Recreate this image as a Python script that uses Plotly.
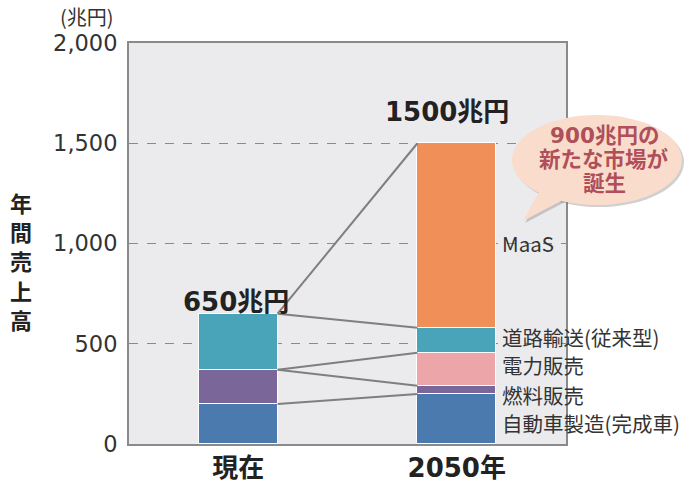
import plotly.graph_objects as go

categories = ["現在", "2050年"]
series_names = ["自動車製造(完成車)", "燃料販売", "電力販売", "道路輸送(従来型)", "MaaS"]
series_values = [
    [200, 250],
    [170, 40],
    [0, 165],
    [280, 125],
    [0, 920],
]
series_colors = ["#4a7aae", "#7a6699", "#eca5a9", "#49a3b9", "#f09058"]
totals = [650, 1500]
total_labels = ["650兆円", "1500兆円"]
y_ticks = [0, 500, 1000, 1500, 2000]
y_ticktext = ["0", "500", "1,000", "1,500", "2,000"]
y_title = "年間売上高"
callout_lines = ["900兆円の", "新たな市場が", "誕生"]

W, H = 700, 482
L, R, T, B = 129, 134, 43, 38
PW, PH = W - L - R, H - T - B
BW = 0.36
xs = [0, 1]

def px(x):
    return (x - L) / PW

def py(y):
    return (H - B - y) / PH

fig = go.Figure()

cum = []
run = [0, 0]
for name, vals, col in zip(series_names, series_values, series_colors):
    fig.add_trace(go.Bar(
        x=xs, y=[v if v else None for v in vals], name=name, width=BW,
        marker=dict(color=col, line=dict(color="white", width=1.5)),
        showlegend=False, hoverinfo="skip"))
    run = [run[0] + vals[0], run[1] + vals[1]]
    cum.append(list(run))

# connectors: (series index at current, series index at 2050)
connectors = [(3, 4), (3, 3), (1, 2), (1, 1), (0, 0)]
for a, b in connectors:
    fig.add_trace(go.Scatter(
        x=[xs[0] + BW / 2, xs[1] - BW / 2], y=[cum[a][0], cum[b][1]],
        mode="lines", line=dict(color="#7f7f7f", width=2),
        showlegend=False, hoverinfo="skip", cliponaxis=False))

FONT = "DejaVu Sans, Noto Sans CJK JP"
CJK = "Noto Sans CJK JP"
annotations = []
# totals
annotations.append(dict(x=xs[0], y=totals[0], text="<b>" + total_labels[0] + "</b>",
                        showarrow=False, yanchor="bottom", yshift=-5, xshift=-2,
                        font=dict(size=26, color="#222", family=FONT)))
annotations.append(dict(x=xs[1], y=totals[1], text="<b>" + total_labels[1] + "</b>",
                        showarrow=False, yanchor="bottom", yshift=14, xshift=-10,
                        font=dict(size=26, color="#222", family=FONT)))

# segment labels at the right of the 2050 bar
label_y = [105, 245, 395, 535, 1005]
for name, ly in zip(series_names, label_y):
    annotations.append(dict(x=px(500), xref="paper", y=ly, yref="y", text=name,
                            showarrow=False, xanchor="left", yanchor="middle",
                            font=dict(size=20.5, color="#333", family=CJK)))

# unit and y title
annotations.append(dict(x=px(116), y=py(16), xref="paper", yref="paper", text="(兆円)",
                        showarrow=False, xanchor="right", yanchor="middle",
                        font=dict(size=20, color="#333", family=CJK)))
for i, ch in enumerate(y_title):
    annotations.append(dict(x=px(21), y=py(202 + 29.2 * i), xref="paper", yref="paper",
                            text="<b>" + ch + "</b>", showarrow=False,
                            xanchor="center", yanchor="middle",
                            font=dict(size=22, color="#222", family=CJK)))

# callout text
for i, line in enumerate(callout_lines):
    annotations.append(dict(x=px(604), y=py(135 + 24 * i), xref="paper", yref="paper",
                            text="<b>" + line + "</b>", showarrow=False,
                            xanchor="center", yanchor="middle",
                            font=dict(size=21.5, color="#b04f59", family=FONT)))

shapes = []
fill = "#f9dccb"
def ell(x0, y0, x1, y1, color):
    return dict(type="circle", xref="paper", yref="paper", x0=px(x0), x1=px(x1),
                y0=py(y1), y1=py(y0), fillcolor=color, line=dict(width=0), layer="above")

def tail(dx, dy, color):
    pts = [(540 + dx, 190 + dy), (523 + dx, 221 + dy), (563 + dx, 200 + dy)]
    p = "M " + " L ".join(f"{px(a)},{py(b)}" for a, b in pts) + " Z"
    return dict(type="path", xref="paper", yref="paper", path=p, fillcolor=color,
                line=dict(width=0), layer="above")

shadow = "rgba(120,120,120,0.35)"
shapes.append(tail(2, 2, shadow))
shapes.append(ell(514, 117, 684, 207, shadow))
shapes.append(tail(0, 0, fill))
shapes.append(ell(512, 115, 682, 205, fill))

fig.update_layout(
    width=W, height=H, margin=dict(l=L, r=R, t=T, b=B, autoexpand=False),
    paper_bgcolor="white", plot_bgcolor="#ebebee",
    barmode="stack", bargap=0,
    annotations=annotations, shapes=shapes,
    font=dict(family=FONT, color="#333"),
    xaxis=dict(range=[-0.5, 1.5], tickvals=xs, automargin=False,
               ticktext=["<b>" + c + "</b>" for c in categories],
               tickfont=dict(size=26, color="#222", family=FONT),
               showgrid=False, zeroline=False, showline=True, mirror=True,
               linecolor="#8a8a8a", linewidth=2, ticks="", ticklabelstandoff=0),
    yaxis=dict(range=[0, 2000], tickvals=y_ticks, ticktext=y_ticktext, automargin=False,
               tickfont=dict(size=22.5, color="#333", family="DejaVu Sans"),
               showgrid=True, gridcolor="#8a8a8a", griddash="dash", gridwidth=1,
               zeroline=False, showline=True, mirror=True,
               linecolor="#8a8a8a", linewidth=2, ticks="", ticklabelstandoff=5),
)

fig.write_html("out.html")
